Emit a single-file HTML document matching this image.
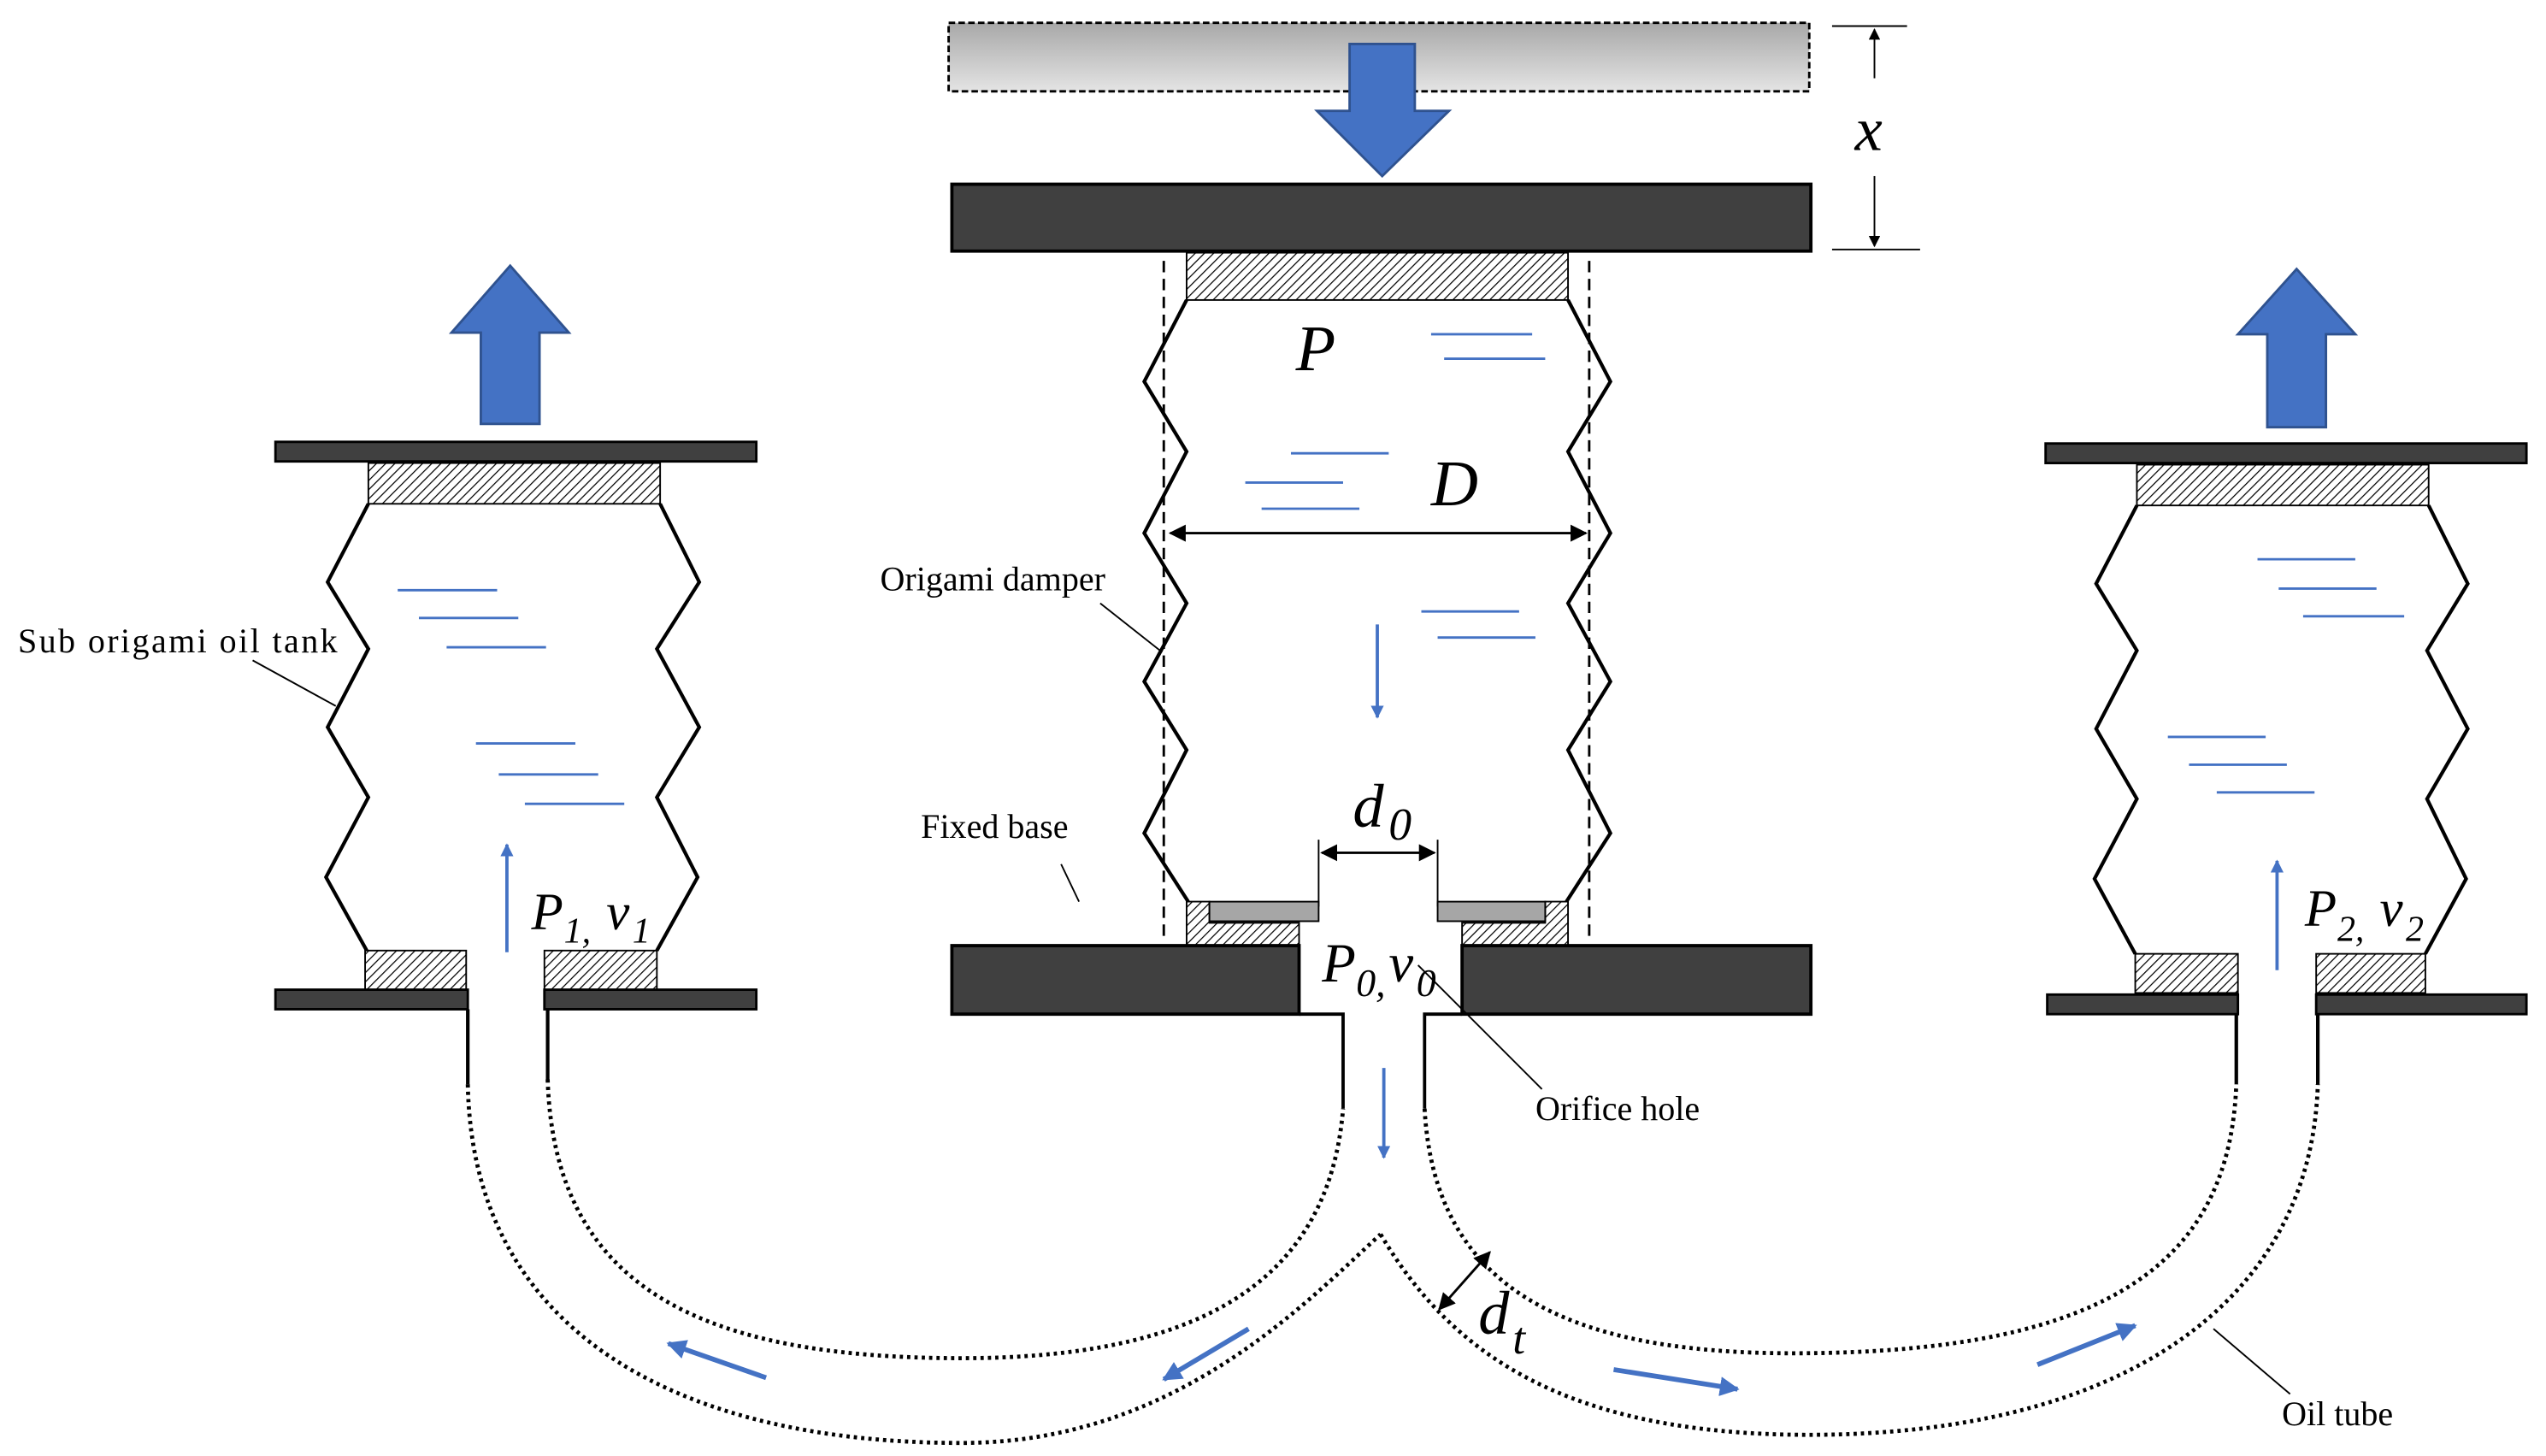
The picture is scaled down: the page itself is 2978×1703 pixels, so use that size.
<!DOCTYPE html>
<html><head><meta charset="utf-8"><style>
html,body{margin:0;padding:0;background:#fff;}
svg{display:block;}
text{font-family:"Liberation Serif",serif;fill:#000;}
.it{font-style:italic;}
</style></head><body>
<svg width="2978" height="1703" viewBox="0 0 1562 893" preserveAspectRatio="none" xmlns="http://www.w3.org/2000/svg">
<defs>
<pattern id="h" patternUnits="userSpaceOnUse" width="4" height="4" patternTransform="rotate(45)">
<rect width="4" height="4" fill="#fff"/><line x1="0" y1="0" x2="0" y2="4" stroke="#000" stroke-width="1.3"/>
</pattern>
<linearGradient id="g" x1="0" y1="0" x2="0" y2="1"><stop offset="0" stop-color="#a8a8a8"/><stop offset="1" stop-color="#e4e4e4"/></linearGradient>
<marker id="ah" viewBox="0 0 10 10" refX="9" refY="5" markerWidth="7" markerHeight="7" orient="auto-start-reverse"><path d="M0,0 L10,5 L0,10 z" fill="#000"/></marker>
<marker id="bh" viewBox="0 0 10 10" refX="9" refY="5" markerWidth="4" markerHeight="4" orient="auto"><path d="M0,0 L10,5 L0,10 z" fill="#4472c4"/></marker>
</defs>

<rect x="582" y="14" width="528" height="42" fill="url(#g)" stroke="#000" stroke-width="1.5" stroke-dasharray="4,2"/>
<path d="M828,27 H868 V68 H889 L848,108 L808,68 H828 Z" fill="#4472c4" stroke="#2f528f" stroke-width="1.5"/>
<rect x="584" y="113" width="527" height="41" fill="#404040" stroke="#000" stroke-width="2"/>
<line x1="1124" y1="16" x2="1170" y2="16" stroke="#000" stroke-width="1"/>
<line x1="1124" y1="153" x2="1178" y2="153" stroke="#000" stroke-width="1"/>
<line x1="1150" y1="48" x2="1150" y2="18" stroke="#000" stroke-width="1" marker-end="url(#ah)"/>
<line x1="1150" y1="108" x2="1150" y2="151" stroke="#000" stroke-width="1" marker-end="url(#ah)"/>
<text x="1138" y="92" class="it" font-size="38">x</text>

<rect x="728" y="155" width="234" height="29" fill="url(#h)" stroke="#000" stroke-width="1"/>
<line x1="714" y1="160" x2="714" y2="578" stroke="#000" stroke-width="1.5" stroke-dasharray="7,4"/>
<line x1="975" y1="160" x2="975" y2="578" stroke="#000" stroke-width="1.5" stroke-dasharray="7,4"/>
<polyline points="728,184 702,234 728,277 702,327 728,370 702,418 728,460 702,511 729,553" fill="none" stroke="#000" stroke-width="2.2"/>
<polyline points="962,184 988,234 962,277 988,327 962,370 988,418 962,460 988,511 961,553" fill="none" stroke="#000" stroke-width="2.2"/>
<g stroke="#4472c4" stroke-width="1.5">
<line x1="878" y1="205" x2="940" y2="205"/><line x1="886" y1="220" x2="948" y2="220"/>
<line x1="792" y1="278" x2="852" y2="278"/><line x1="764" y1="296" x2="824" y2="296"/><line x1="774" y1="312" x2="834" y2="312"/>
<line x1="872" y1="375" x2="932" y2="375"/><line x1="882" y1="391" x2="942" y2="391"/>
</g>
<text x="795" y="227" class="it" font-size="40">P</text>
<text x="878" y="310" class="it" font-size="40">D</text>
<line x1="718" y1="327" x2="973" y2="327" stroke="#000" stroke-width="1.5" marker-start="url(#ah)" marker-end="url(#ah)"/>
<line x1="845" y1="383" x2="845" y2="440" stroke="#4472c4" stroke-width="2" marker-end="url(#bh)"/>
<text x="540" y="362" font-size="21">Origami damper</text>
<line x1="675" y1="370" x2="713" y2="400" stroke="#000" stroke-width="1"/>
<text x="565" y="514" font-size="21">Fixed base</text>
<line x1="651" y1="530" x2="662" y2="553" stroke="#000" stroke-width="1"/>
<text x="830" y="507" class="it" font-size="38">d</text><text x="852" y="515" class="it" font-size="28">0</text>
<line x1="809" y1="515" x2="809" y2="556" stroke="#000" stroke-width="1"/>
<line x1="882" y1="515" x2="882" y2="556" stroke="#000" stroke-width="1"/>
<line x1="811" y1="523" x2="880" y2="523" stroke="#000" stroke-width="1.5" marker-start="url(#ah)" marker-end="url(#ah)"/>
<path d="M728,553 H742 V566 H797 V580 H728 Z" fill="url(#h)" stroke="#000" stroke-width="1"/>
<path d="M962,553 H948 V566 H897 V580 H962 Z" fill="url(#h)" stroke="#000" stroke-width="1"/>
<rect x="742" y="553" width="67" height="12" fill="#a6a6a6" stroke="#000" stroke-width="1"/>
<rect x="882" y="553" width="66" height="12" fill="#a6a6a6" stroke="#000" stroke-width="1"/>
<path d="M584,580 H797 V622 H584 Z" fill="#404040" stroke="#000" stroke-width="2"/>
<path d="M897,580 H1111 V622 H897 Z" fill="#404040" stroke="#000" stroke-width="2"/>
<path d="M797,622 H824 V680 M897,622 H874 V680" fill="none" stroke="#000" stroke-width="2"/>
<text x="811" y="602" class="it" font-size="34">P</text><text x="832" y="611" class="it" font-size="24">0,</text>
<text x="852" y="602" class="it" font-size="34">v</text><text x="869" y="611" class="it" font-size="24">0</text>
<line x1="870" y1="592" x2="946" y2="668" stroke="#000" stroke-width="1"/>
<text x="942" y="687" font-size="21">Orifice hole</text>
<line x1="849" y1="655" x2="849" y2="710" stroke="#4472c4" stroke-width="2" marker-end="url(#bh)"/>

<path d="M295,260 V204 H277 L313,163 L349,204 H331 V260 Z" fill="#4472c4" stroke="#2f528f" stroke-width="1.5"/>
<rect x="169" y="271" width="295" height="12" fill="#404040" stroke="#000" stroke-width="1.5"/>
<rect x="226" y="284" width="179" height="25" fill="url(#h)" stroke="#000" stroke-width="1"/>
<polyline points="226,309 201,357 226,398 201,446 226,489 200,538 225,583" fill="none" stroke="#000" stroke-width="2.2"/>
<polyline points="405,309 429,357 403,398 429,446 403,489 428,538 403,583" fill="none" stroke="#000" stroke-width="2.2"/>
<g stroke="#4472c4" stroke-width="1.5">
<line x1="244" y1="362" x2="305" y2="362"/><line x1="257" y1="379" x2="318" y2="379"/><line x1="274" y1="397" x2="335" y2="397"/>
<line x1="292" y1="456" x2="353" y2="456"/><line x1="306" y1="475" x2="367" y2="475"/><line x1="322" y1="493" x2="383" y2="493"/>
</g>
<line x1="311" y1="584" x2="311" y2="518" stroke="#4472c4" stroke-width="2" marker-end="url(#bh)"/>
<text x="326" y="570" class="it" font-size="32">P</text><text x="346" y="578" class="it" font-size="22">1,</text>
<text x="372" y="570" class="it" font-size="32">v</text><text x="388" y="578" class="it" font-size="22">1</text>
<rect x="224" y="583" width="62" height="24" fill="url(#h)" stroke="#000" stroke-width="1"/>
<rect x="334" y="583" width="69" height="24" fill="url(#h)" stroke="#000" stroke-width="1"/>
<rect x="169" y="607" width="118" height="12" fill="#404040" stroke="#000" stroke-width="1.5"/>
<rect x="334" y="607" width="130" height="12" fill="#404040" stroke="#000" stroke-width="1.5"/>
<path d="M287,619 V665 M336,619 V662" stroke="#000" stroke-width="2.2"/>
<text x="11" y="400" font-size="21" textLength="196">Sub origami oil tank</text>
<line x1="155" y1="405" x2="206" y2="433" stroke="#000" stroke-width="1"/>

<path d="M1391,262 V205 H1373 L1409,165 L1445,205 H1427 V262 Z" fill="#4472c4" stroke="#2f528f" stroke-width="1.5"/>
<rect x="1255" y="272" width="295" height="12" fill="#404040" stroke="#000" stroke-width="1.5"/>
<rect x="1311" y="285" width="179" height="25" fill="url(#h)" stroke="#000" stroke-width="1"/>
<polyline points="1311,310 1286,358 1311,399 1286,447 1311,490 1285,539 1310,585" fill="none" stroke="#000" stroke-width="2.2"/>
<polyline points="1490,310 1514,358 1489,399 1514,447 1489,490 1513,539 1488,585" fill="none" stroke="#000" stroke-width="2.2"/>
<g stroke="#4472c4" stroke-width="1.5">
<line x1="1385" y1="343" x2="1445" y2="343"/><line x1="1398" y1="361" x2="1458" y2="361"/><line x1="1413" y1="378" x2="1475" y2="378"/>
<line x1="1330" y1="452" x2="1390" y2="452"/><line x1="1343" y1="469" x2="1403" y2="469"/><line x1="1360" y1="486" x2="1420" y2="486"/>
</g>
<line x1="1397" y1="595" x2="1397" y2="528" stroke="#4472c4" stroke-width="2" marker-end="url(#bh)"/>
<text x="1414" y="568" class="it" font-size="32">P</text><text x="1434" y="577" class="it" font-size="22">2,</text>
<text x="1460" y="568" class="it" font-size="32">v</text><text x="1476" y="577" class="it" font-size="22">2</text>
<rect x="1310" y="585" width="63" height="24" fill="url(#h)" stroke="#000" stroke-width="1"/>
<rect x="1421" y="585" width="67" height="24" fill="url(#h)" stroke="#000" stroke-width="1"/>
<rect x="1256" y="610" width="117" height="12" fill="#404040" stroke="#000" stroke-width="1.5"/>
<rect x="1421" y="610" width="129" height="12" fill="#404040" stroke="#000" stroke-width="1.5"/>
<path d="M1372,622 V665 M1422,622 V665" stroke="#000" stroke-width="2.2"/>

<g fill="none" stroke="#000" stroke-width="2.5" stroke-dasharray="2,2.5">
<path d="M336,662 C340,790 430,833 590,833 C730,833 815,790 824,680"/>
<path d="M287,665 C290,820 420,885 590,885 C720,885 800,800 847,757"/>
<path d="M847,757 C890,830 960,880 1110,880 C1300,880 1418,800 1422,665"/>
<path d="M874,680 C880,790 960,830 1100,830 C1300,830 1368,770 1372,665"/>
</g>
<g stroke="#4472c4" stroke-width="3">
<line x1="470" y1="845" x2="410" y2="824" marker-end="url(#bh)"/>
<line x1="766" y1="815" x2="714" y2="846" marker-end="url(#bh)"/>
<line x1="990" y1="840" x2="1066" y2="852" marker-end="url(#bh)"/>
<line x1="1250" y1="837" x2="1310" y2="813" marker-end="url(#bh)"/>
</g>
<line x1="883" y1="803" x2="914" y2="768" stroke="#000" stroke-width="1.5" marker-start="url(#ah)" marker-end="url(#ah)"/>
<text x="907" y="818" class="it" font-size="38">d</text><text x="928" y="830" class="it" font-size="28">t</text>
<line x1="1358" y1="815" x2="1405" y2="855" stroke="#000" stroke-width="1"/>
<text x="1400" y="874" font-size="21">Oil tube</text>
</svg>
</body></html>
